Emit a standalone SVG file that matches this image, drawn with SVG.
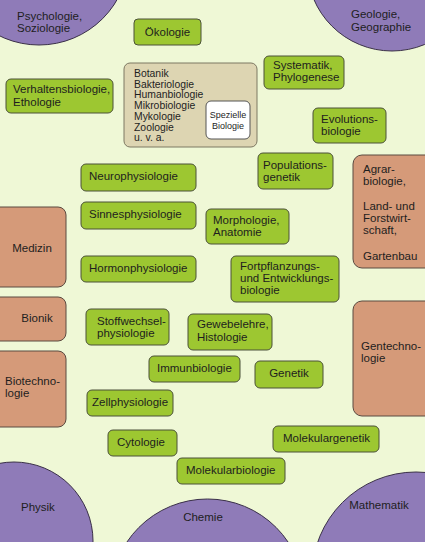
<svg xmlns="http://www.w3.org/2000/svg" width="425" height="542" viewBox="0 0 425 542">
<style>
text{font-family:"Liberation Sans",Arial,sans-serif;font-size:11.5px;fill:#1e1e1e}
.g{fill:#9dc731;stroke:#4b5138;stroke-width:1}
.o{fill:#d59a79;stroke:#5a4a40;stroke-width:1}
.p{fill:#8f7bb8;stroke:#3a3048;stroke-width:1}
.t{fill:#ddd5b2;stroke:#7d7862;stroke-width:1}
.w{fill:#ffffff;stroke:#555;stroke-width:1}
.s{font-size:10.4px}
.xs{font-size:9px}
.m{text-anchor:middle}
</style>
<rect width="425" height="542" fill="#eff8d6"/>
<g id="psychologie"><circle class="p" cx="39" cy="-45" r="90"/><text x="17" y="20">Psychologie,</text><text x="17" y="32">Soziologie</text></g>
<g id="geologie"><circle class="p" cx="392" cy="-34" r="85"/><text x="351" y="18">Geologie,</text><text x="351" y="31">Geographie</text></g>
<g id="physik"><circle class="p" cx="14" cy="541" r="79"/><text x="21" y="511">Physik</text></g>
<g id="chemie"><circle class="p" cx="207.5" cy="596" r="97"/><text x="203" y="521" class="m">Chemie</text></g>
<g id="mathematik"><circle class="p" cx="416" cy="576" r="104"/><text x="379" y="509" class="m">Mathematik</text></g>
<g id="connectors"></g>
<g id="oekologie"><rect class="g" x="134" y="19" width="67" height="26" rx="4"/><text x="167.5" y="36" class="m">Ökologie</text></g>
<g id="verhaltensbiologie"><rect class="g" x="6" y="79" width="107" height="34" rx="5"/><text x="13" y="93">Verhaltensbiologie,</text><text x="13" y="106">Ethologie</text></g>
<g id="spezielle"><rect class="t" x="124" y="63" width="133" height="84" rx="6"/>
<text class="s" x="134" y="77">Botanik</text><text class="s" x="134" y="87.7">Bakteriologie</text><text class="s" x="134" y="98.4">Humanbiologie</text><text class="s" x="134" y="109.1">Mikrobiologie</text><text class="s" x="134" y="119.8">Mykologie</text><text class="s" x="134" y="130.5">Zoologie</text><text class="s" x="134" y="141.2">u. v. a.</text>
<rect class="w" x="206" y="101" width="44" height="38" rx="5"/><text class="xs m" x="228" y="118">Spezielle</text><text class="xs m" x="228" y="129">Biologie</text></g>
<g id="systematik"><rect class="g" x="264" y="56" width="80" height="33" rx="5"/><text x="273" y="69">Systematik,</text><text x="273" y="81">Phylogenese</text></g>
<g id="evolution"><rect class="g" x="313" y="108" width="73" height="35" rx="5"/><text x="321" y="123">Evolutions-</text><text x="321" y="135">biologie</text></g>
<g id="neurophysiologie"><rect class="g" x="81" y="164" width="115" height="27" rx="5"/><text x="89" y="180">Neurophysiologie</text></g>
<g id="sinnesphysiologie"><rect class="g" x="81" y="202" width="115" height="27" rx="5"/><text x="89" y="218">Sinnesphysiologie</text></g>
<g id="hormonphysiologie"><rect class="g" x="81" y="256" width="115" height="26" rx="5"/><text x="89" y="272">Hormonphysiologie</text></g>
<g id="populationsgenetik"><rect class="g" x="258" y="153" width="75" height="36" rx="5"/><text x="263" y="169">Populations-</text><text x="263" y="181">genetik</text></g>
<g id="agrar"><rect class="o" x="353" y="155" width="82" height="113" rx="9"/><text x="363" y="173">Agrar-</text><text x="363" y="185">biologie,</text><text x="363" y="210">Land- und</text><text x="363" y="222">Forstwirt-</text><text x="363" y="234">schaft,</text><text x="363" y="260">Gartenbau</text></g>
<g id="morphologie"><rect class="g" x="206" y="209" width="83" height="35" rx="5"/><text x="213" y="224">Morphologie,</text><text x="213" y="236">Anatomie</text></g>
<g id="fortpflanzung"><rect class="g" x="231" y="256" width="108" height="46" rx="5"/><text x="240" y="270">Fortpflanzungs-</text><text x="240" y="282">und Entwicklungs-</text><text x="240" y="294">biologie</text></g>
<g id="medizin"><rect class="o" x="-10" y="207" width="76" height="80" rx="8"/><text x="32" y="252" class="m">Medizin</text></g>
<g id="bionik"><rect class="o" x="-10" y="297" width="76" height="44" rx="8"/><text x="37" y="322" class="m">Bionik</text></g>
<g id="biotechnologie"><rect class="o" x="-10" y="351" width="76" height="76" rx="8"/><text x="5" y="385">Biotechno-</text><text x="5" y="397">logie</text></g>
<g id="stoffwechsel"><rect class="g" x="86" y="309" width="83" height="36" rx="5"/><text x="97" y="325">Stoffwechsel-</text><text x="97" y="337">physiologie</text></g>
<g id="gewebelehre"><rect class="g" x="188" y="314" width="84" height="36" rx="5"/><text x="197" y="328">Gewebelehre,</text><text x="197" y="341">Histologie</text></g>
<g id="immunbiologie"><rect class="g" x="149" y="356" width="91" height="26" rx="5"/><text x="157" y="372">Immunbiologie</text></g>
<g id="genetik"><rect class="g" x="255" y="361" width="68" height="27" rx="5"/><text x="289" y="377" class="m">Genetik</text></g>
<g id="gentechnologie"><rect class="o" x="353" y="301" width="82" height="115" rx="9"/><text x="361" y="350">Gentechno-</text><text x="361" y="362">logie</text></g>
<g id="zellphysiologie"><rect class="g" x="87" y="390" width="86" height="26" rx="5"/><text x="92" y="406">Zellphysiologie</text></g>
<g id="cytologie"><rect class="g" x="108" y="430" width="69" height="26" rx="5"/><text x="117" y="446">Cytologie</text></g>
<g id="molekulargenetik"><rect class="g" x="273" y="426" width="106" height="26" rx="5"/><text x="283" y="442">Molekulargenetik</text></g>
<g id="molekularbiologie"><rect class="g" x="177" y="458" width="108" height="26" rx="5"/><text x="186" y="474">Molekularbiologie</text></g>
</svg>
